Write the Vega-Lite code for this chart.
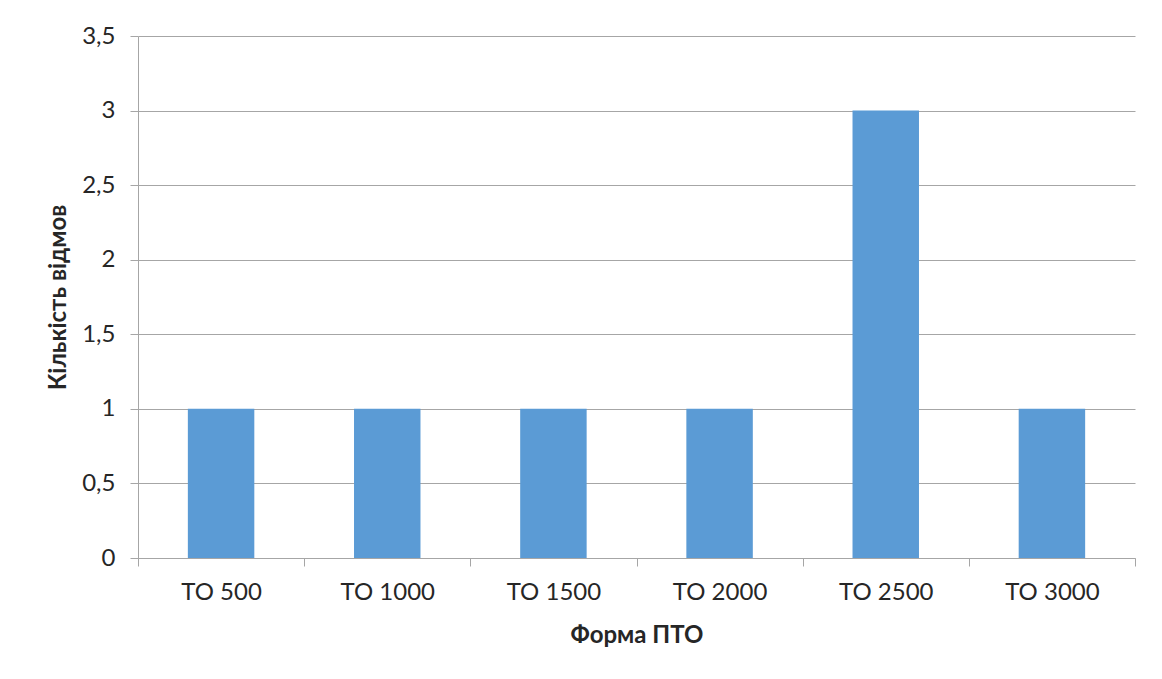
{
  "$schema": "https://vega.github.io/schema/vega-lite/v6.json",
  "width": 997,
  "height": 522,
  "autosize": {"type": "none"},
  "padding": {"left": 138, "top": 36, "right": 27, "bottom": 121},
  "background": "white",
  "config": {
    "locale": {"number": {"decimal": ",", "thousands": " ", "grouping": [3], "currency": ["", " ₴"]}},
    "view": {"stroke": null},
    "font": "Lato"
  },
  "data": {
    "values": [
      {"form": "ТО 500", "count": 1},
      {"form": "ТО 1000", "count": 1},
      {"form": "ТО 1500", "count": 1},
      {"form": "ТО 2000", "count": 1},
      {"form": "ТО 2500", "count": 3},
      {"form": "ТО 3000", "count": 1}
    ]
  },
  "mark": {"type": "bar", "color": "#5B9BD5", "width": {"band": 0.4}},
  "encoding": {
    "x": {
      "field": "form",
      "type": "nominal",
      "sort": null,
      "scale": {"paddingInner": 0, "paddingOuter": 0},
      "axis": {
        "title": "Форма ПТО",
        "titleFont": "Lato",
        "titleFontSize": 24,
        "titleFontWeight": "bold",
        "titleColor": "#262626",
        "titlePadding": 19,
        "labelAngle": 0,
        "labelFont": "Lato",
        "labelFontSize": 24,
        "labelColor": "#262626",
        "labelPadding": 14,
        "tickBand": "extent",
        "tickSize": 8,
        "tickColor": "#A6A6A6",
        "domainColor": "#A6A6A6",
        "grid": false
      }
    },
    "y": {
      "field": "count",
      "type": "quantitative",
      "scale": {"domain": [0, 3.5], "nice": false},
      "axis": {
        "title": "Кількість відмов",
        "titleFont": "Lato",
        "titleFontSize": 24,
        "titleFontWeight": "bold",
        "titleColor": "#262626",
        "titlePadding": 11,
        "values": [0, 0.5, 1, 1.5, 2, 2.5, 3, 3.5],
        "format": "~g",
        "labelFont": "Lato",
        "labelFontSize": 24,
        "labelColor": "#262626",
        "labelPadding": 15,
        "tickSize": 8,
        "tickColor": "#A6A6A6",
        "domainColor": "#A6A6A6",
        "gridColor": "#A6A6A6",
        "grid": true
      }
    }
  }
}
